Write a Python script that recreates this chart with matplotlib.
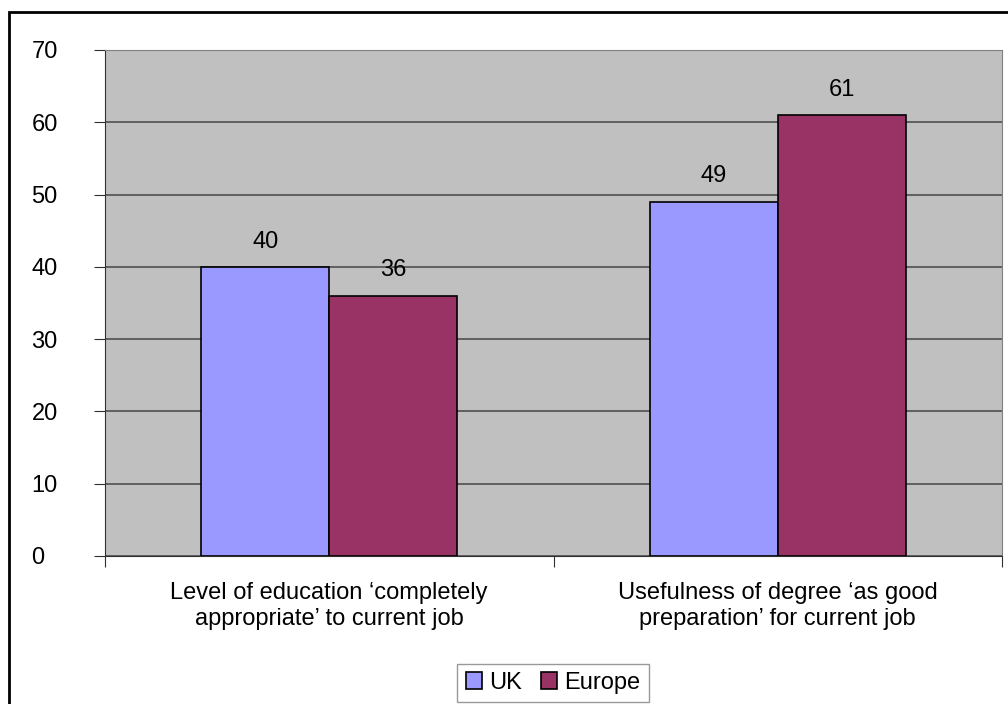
import matplotlib.pyplot as plt
import numpy as np
from matplotlib.patches import Rectangle

plt.rcParams['font.family'] = ['Liberation Sans', 'DejaVu Sans']

# data
categories = ["Level of education \u2018completely\nappropriate\u2019 to current job",
              "Usefulness of degree \u2018as good\npreparation\u2019 for current job"]
uk = [40, 49]
europe = [36, 61]

fs = 17

fig = plt.figure(figsize=(10.08, 7.04), dpi=100)
ax = fig.add_axes([105 / 1008, 1 - 556 / 704, (1002 - 105) / 1008, (556 - 50) / 704])

# outer frame of the chart
fig.patches.append(Rectangle((9 / 1008, -0.1), 1.2, 1 - 12 / 704 + 0.1,
                             transform=fig.transFigure, fill=False,
                             edgecolor="black", linewidth=2))

x = np.arange(len(categories))
w = 0.285
b1 = ax.bar(x - w / 2, uk, w, color="#9999FF", edgecolor="black", linewidth=1.2, label="UK", zorder=3)
b2 = ax.bar(x + w / 2, europe, w, color="#993366", edgecolor="black", linewidth=1.2, label="Europe", zorder=3)

for bars in (b1, b2):
    for r in bars:
        ax.text(r.get_x() + r.get_width() / 2, r.get_height() + 3.5, str(int(r.get_height())),
                ha="center", va="center", fontsize=fs)

ax.set_facecolor("#C0C0C0")
ax.set_xlim(-0.5, 1.5)
ax.set_ylim(0, 70)
ax.set_yticks(range(0, 71, 10))
ax.yaxis.grid(True, color="#505050", linewidth=1.2, zorder=1)
ax.set_axisbelow(True)

ax.set_xticks([-0.5, 0.5, 1.5])
ax.set_xticklabels([])
ax.set_xticks(x, minor=True)
ax.set_xticklabels(categories, minor=True, fontsize=fs, linespacing=1.2)
ax.tick_params(axis="x", which="minor", length=0, pad=19)
ax.tick_params(axis="x", which="major", length=8, direction="out", color="#303030")
ax.tick_params(axis="y", length=8, direction="out", labelsize=fs, pad=45, color="#303030")
for t in ax.get_yticklabels():
    t.set_horizontalalignment("left")

ax.spines["left"].set_color("#303030")
ax.spines["bottom"].set_color("#303030")
ax.spines["top"].set_color("#808080")
ax.spines["right"].set_color("#808080")

leg = fig.legend(loc="center", bbox_to_anchor=(553 / 1008, 1 - 683 / 704), ncol=2,
                 fontsize=fs, frameon=True, fancybox=False, edgecolor="#808080",
                 handlelength=0.7, handleheight=0.7, handletextpad=0.3, columnspacing=0.8,
                 borderpad=0.35)
leg.get_frame().set_linewidth(1)

plt.savefig("out.png", dpi=100)
